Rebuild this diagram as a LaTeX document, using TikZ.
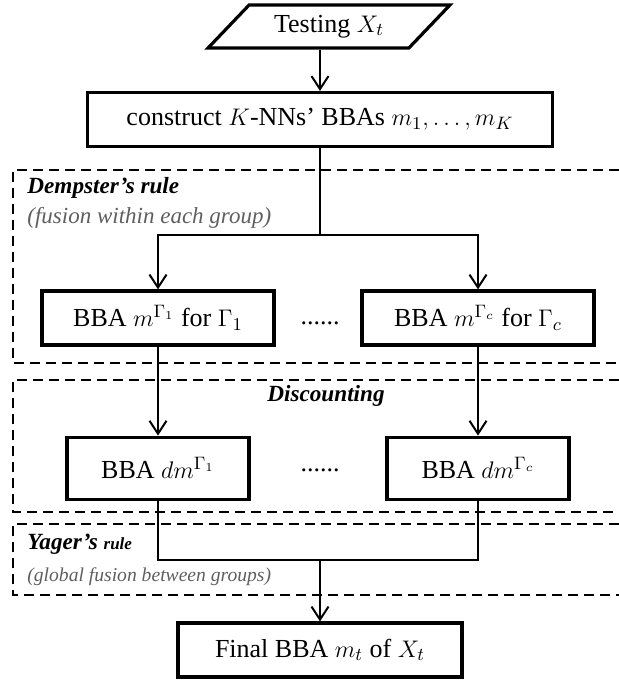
\documentclass[tikz,border=0pt]{standalone}
\usepackage{fontspec}
\setmainfont{Liberation Serif}
\usepackage{tikz}
\usetikzlibrary{shapes.geometric,arrows.meta,positioning}
\definecolor{notegray}{RGB}{95,95,95}

\begin{document}
\begin{tikzpicture}[
    x=0.5pt, y=-0.5pt,
    box/.style={rectangle, draw, line width=1.6pt, align=center, minimum height=27pt, inner sep=2pt, font=\fontsize{13}{15}\selectfont},
    io/.style={trapezium, trapezium left angle=42.5, trapezium right angle=137.5, trapezium stretches=true, draw, line width=1.6pt, minimum width=121pt, minimum height=21.5pt, inner sep=1pt, font=\fontsize{13}{15}\selectfont},
    arrow/.style={-{Straight Barb[length=6.5pt,width=8.5pt]}, line width=1pt},
    link/.style={line width=1pt},
    grpframe/.style={dash pattern=on 5pt off 3pt, line width=0.8pt},
    title/.style={anchor=west, inner sep=0pt, font=\fontsize{11.6}{13}\selectfont\bfseries\itshape},
    note/.style={anchor=west, inner sep=0pt, text=notegray, font=\fontsize{11.5}{13}\selectfont\itshape},
    ellip/.style={inner sep=0pt, font=\fontsize{13}{15}\selectfont}
]
    \useasboundingbox (0,0) rectangle (619,684);

    % dashed stage frames, open on the right
    \draw[grpframe] (619,170) -| (13,363) -- (619,363);
    \draw[grpframe] (619,380) -| (13,512) -- (619,512);
    \draw[grpframe] (619,524) -| (13,595) -- (619,595);

    \node[title] (dempster) at (27,188) {Dempster’s rule};
    \node[note] (withinnote) at (27,218) {(fusion within each group)};
    \node[title, anchor=center] (discount) at (326,396) {Discounting};
    \node[title] (yager) at (27,544) {Yager’s {\fontsize{8.5}{10}\selectfont rule}};
    \node[note, font=\fontsize{9.8}{12}\selectfont\itshape] (globalnote) at (27,577) {(global fusion between groups)};

    % flow
    \node[io] (test) at (329,26.5) {Testing $X_t$};
    \node[box, minimum width=232.5pt] (construct) at (320,119.5) {construct $K$-NNs’ BBAs $m_1,\ldots,m_K$};
    \node[box, minimum width=116pt] (grp1) at (158,318) {BBA $m^{\Gamma_1}$ for $\Gamma_1$};
    \node[box, minimum width=116pt] (grpc) at (478,318) {BBA $m^{\Gamma_c}$ for $\Gamma_c$};
    \node[ellip] (dotsa) at (320,323) {......};
    \node[box, minimum width=91pt, minimum height=31pt, below=44.5pt of grp1] (disc1) {BBA $dm^{\Gamma_1}$};
    \node[box, minimum width=91pt, minimum height=31pt, below=44.5pt of grpc] (discc) {BBA $dm^{\Gamma_c}$};
    \node[ellip] (dotsb) at (320,470) {......};
    \node[box, minimum width=142pt] (final) at (320,650) {Final BBA $m_t$ of $X_t$};

    \coordinate (split) at (320,235);
    \coordinate (merge) at (320,560);

    \draw[arrow] (construct.north |- test.south) -- (construct.north);
    \draw[link] (construct) -- (split);
    \draw[arrow] (split) -| (grp1);
    \draw[arrow] (split) -| (grpc);
    \draw[arrow] (grp1) -- (disc1);
    \draw[arrow] (grpc) -- (discc);
    \draw[link] (disc1) |- (merge) -| (discc);
    \draw[arrow] (merge) -- (final);
\end{tikzpicture}
\end{document}
